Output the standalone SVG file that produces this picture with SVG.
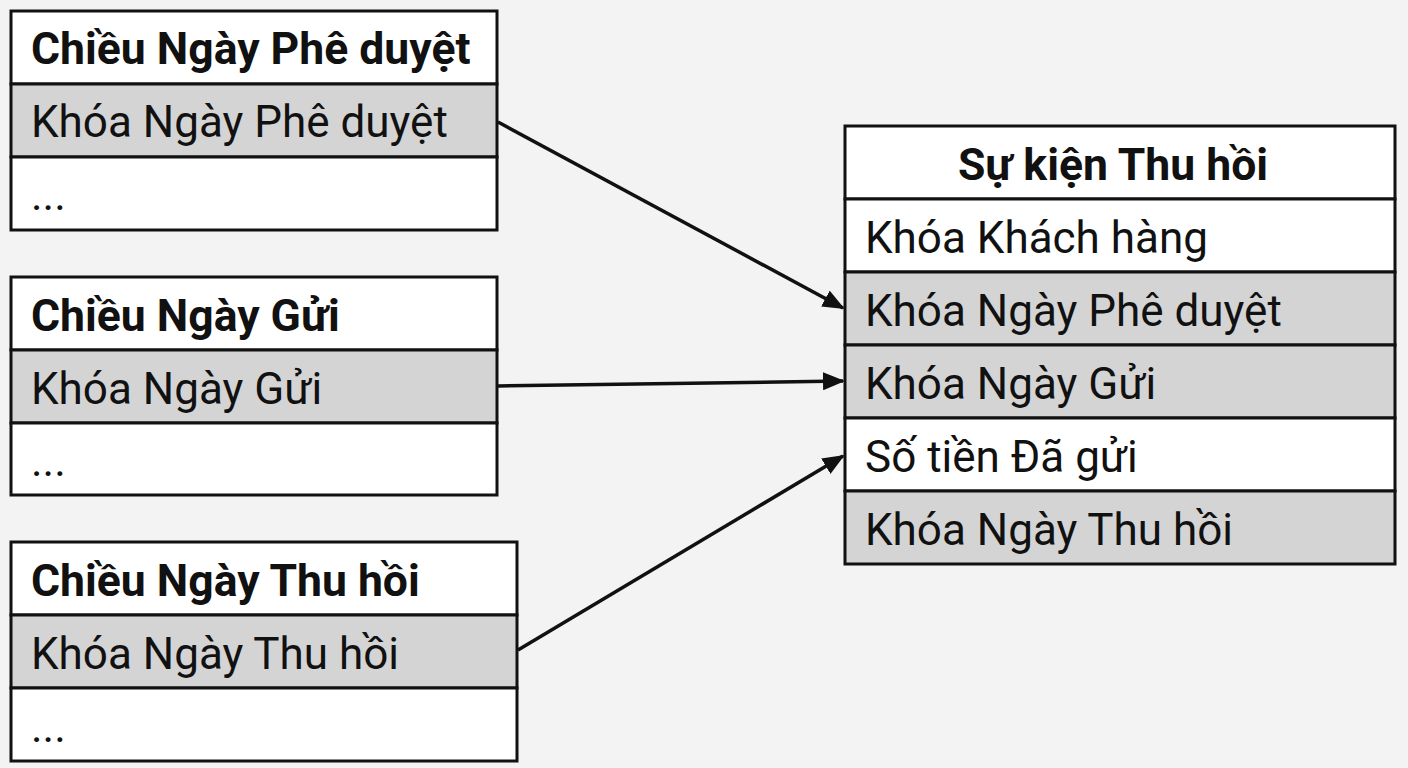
<svg xmlns="http://www.w3.org/2000/svg" width="1408" height="768" viewBox="0 0 1408 768">
<style>
.w{fill:#fff;stroke:#111;stroke-width:3}
.g{fill:#d4d4d4;stroke:#111;stroke-width:3}
text{font-family:Roboto,"Noto Sans",sans-serif;font-size:44px;fill:#111}
.h{font-weight:bold;font-size:44.5px}
.c{stroke:#111;stroke-width:3.5;fill:none;marker-end:url(#a)}
</style>
<defs><marker id="a" markerWidth="22" markerHeight="18" refX="20" refY="9" orient="auto" markerUnits="userSpaceOnUse" viewBox="0 0 22 18"><path d="M0,0L22,9L0,18z" fill="#111"/></marker></defs>
<rect width="1408" height="768" fill="#f3f3f3"/>
<g id="t1">
<rect class="w" x="11" y="11" width="486" height="73"/><rect class="g" x="11" y="84" width="486" height="73"/><rect class="w" x="11" y="157" width="486" height="73"/>
<text class="h" x="31" y="64">Chiều Ngày Phê duyệt</text><text x="31" y="137">Khóa Ngày Phê duyệt</text><text x="31" y="210">...</text>
</g>
<g id="t2">
<rect class="w" x="11" y="277" width="486" height="73"/><rect class="g" x="11" y="350" width="486" height="73"/><rect class="w" x="11" y="423" width="486" height="72"/>
<text class="h" x="31" y="331">Chiều Ngày Gửi</text><text x="31" y="404">Khóa Ngày Gửi</text><text x="31" y="476">...</text>
</g>
<g id="t3">
<rect class="w" x="11" y="542" width="506" height="73"/><rect class="g" x="11" y="615" width="506" height="73"/><rect class="w" x="11" y="688" width="506" height="73"/>
<text class="h" x="31" y="596">Chiều Ngày Thu hồi</text><text x="31" y="669">Khóa Ngày Thu hồi</text><text x="31" y="742">...</text>
</g>
<g id="fact">
<rect class="w" x="845" y="126" width="550" height="73"/><rect class="w" x="845" y="199" width="550" height="73"/><rect class="g" x="845" y="272" width="550" height="73"/><rect class="g" x="845" y="345" width="550" height="73"/><rect class="w" x="845" y="418" width="550" height="73"/><rect class="g" x="845" y="491" width="550" height="73"/>
<text class="h" x="1113" y="180" text-anchor="middle">Sự kiện Thu hồi</text>
<text x="865" y="253">Khóa Khách hàng</text><text x="865" y="326">Khóa Ngày Phê duyệt</text><text x="865" y="399">Khóa Ngày Gửi</text><text x="865" y="472">Số tiền Đã gửi</text><text x="865" y="545">Khóa Ngày Thu hồi</text>
</g>
<g id="connectors">
<path class="c" d="M498,122L843,308"/><path class="c" d="M498,386L843,381"/><path class="c" d="M518,650L843,456"/>
</g>
</svg>
